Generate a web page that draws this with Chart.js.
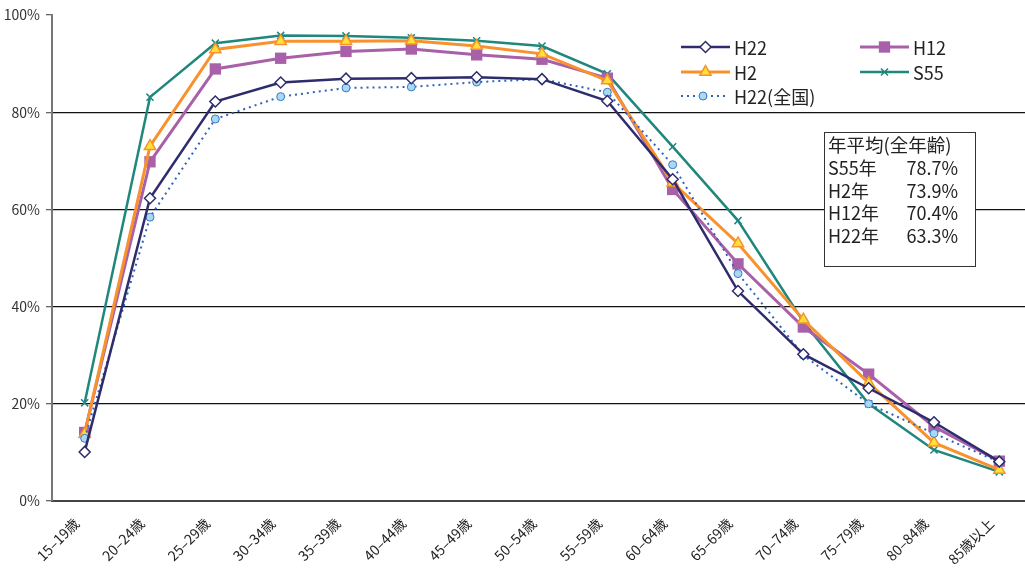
<!DOCTYPE html>
<html lang="ja">
<head>
<meta charset="utf-8">
<script src="https://cdn.jsdelivr.net/npm/chart.js@4/dist/chart.umd.min.js"></script>
<style>
  html, body { margin: 0; padding: 0; background: #fff; overflow: hidden; }
  #wrap { position: absolute; left: 0; top: 0; width: 1040px; height: 569px; }
</style>
</head>
<body>
<div id="wrap"><canvas id="c" width="1040" height="569"></canvas></div>
<script>
// 年齢階級
const ageGroups = ['15–19歳','20–24歳','25–29歳','30–34歳','35–39歳','40–44歳','45–49歳',
  '50–54歳','55–59歳','60–64歳','65–69歳','70–74歳','75–79歳','80–84歳','85歳以上'];

// 労働力率 (%)
const h22 = [10.1, 62.3, 82.2, 86.1, 86.9, 87.0, 87.2, 86.8, 82.3, 66.2, 43.2, 30.2, 23.2, 16.2, 8.1];
const h12 = [14.1, 69.8, 88.9, 91.1, 92.5, 93.0, 91.8, 90.9, 87.0, 64.1, 48.8, 35.8, 26.1, 15.3, 8.2];
const h2  = [13.8, 73.0, 92.9, 94.6, 94.6, 94.7, 93.6, 92.0, 86.5, 65.5, 53.0, 37.3, 24.3, 12.0, 6.4];
const s55 = [20.2, 83.1, 94.2, 95.8, 95.7, 95.3, 94.7, 93.6, 87.9, 72.9, 57.7, 36.9, 20.0, 10.5, 6.0];
const h22National = [12.9, 58.4, 78.6, 83.2, 85.0, 85.2, 86.2, 86.8, 84.1, 69.2, 46.8, 30.0, 20.0, 13.9, 8.0];

// 年平均(全年齢)
const avgLabels = ['S55年', 'H2年', 'H12年', 'H22年'];
const avgValues = [78.7, 73.9, 70.4, 63.3];

const yTicks = [0, 20, 40, 60, 80, 100];

const FONT = '"Noto Sans CJK JP", "Noto Sans", sans-serif';

const datasets = [
  { label: 'H22', data: h22, borderColor: '#2e2c6c', backgroundColor: '#ffffff',
    borderWidth: 2.5, pointStyle: 'rectRot', pointRadius: 5.5, pointBorderWidth: 1.5,
    pointBorderColor: '#2e2c6c', pointBackgroundColor: '#ffffff', order: 1 },
  { label: 'H12', data: h12, borderColor: '#a860a8', backgroundColor: '#a860a8',
    borderWidth: 3, pointStyle: 'rect', pointRadius: 8, pointBorderWidth: 0,
    pointBorderColor: '#a860a8', pointBackgroundColor: '#a860a8', order: 4 },
  { label: 'H2', data: h2, borderColor: '#f7922e', backgroundColor: '#ffe234',
    borderWidth: 3, pointStyle: 'triangle', pointRadius: 6.5, pointBorderWidth: 1.5,
    pointBorderColor: '#f7922e', pointBackgroundColor: '#ffe234', order: 3 },
  { label: 'S55', data: s55, borderColor: '#1f877c', backgroundColor: '#1f877c',
    borderWidth: 2.5, pointStyle: 'crossRot', pointRadius: 5, pointBorderWidth: 1.5,
    pointBorderColor: '#1f877c', pointBackgroundColor: '#1f877c', order: 5 },
  { label: 'H22(全国)', data: h22National, borderColor: '#2f62bd', backgroundColor: '#a9d8f1',
    borderWidth: 2, borderDash: [2, 4], pointStyle: 'circle', pointRadius: 4, pointBorderWidth: 1,
    pointBorderColor: '#3a78c6', pointBackgroundColor: '#a9d8f1', order: 2 }
];
datasets.forEach(d => { d.tension = 0; d.fill = false; d.pointHoverRadius = d.pointRadius; });

// 凡例 (2列) と 年平均のテキストボックス
const overlayPlugin = {
  id: 'overlay',
  afterDraw(chart) {
    const ctx = chart.ctx;
    const slots = [
      { x: 681, y: 47 }, { x: 860, y: 47 },
      { x: 681, y: 72 }, { x: 860, y: 72 },
      { x: 681, y: 96 }
    ];
    ctx.save();
    datasets.forEach((d, i) => {
      const s = slots[i];
      const len = d.borderDash ? 44 : 49;
      ctx.beginPath();
      ctx.setLineDash(d.borderDash || []);
      ctx.lineWidth = d.borderWidth;
      ctx.strokeStyle = d.borderColor;
      ctx.moveTo(s.x, s.y);
      ctx.lineTo(s.x + len, s.y);
      ctx.stroke();
      ctx.setLineDash([]);
      ctx.fillStyle = d.pointBackgroundColor;
      ctx.strokeStyle = d.pointBorderColor;
      ctx.lineWidth = d.pointBorderWidth;
      Chart.helpers.drawPoint(ctx, {
        pointStyle: d.pointStyle, radius: d.pointRadius, rotation: 0,
        borderWidth: d.pointBorderWidth
      }, s.x + len / 2, s.y);
      ctx.fillStyle = '#222';
      ctx.font = '18px ' + FONT;
      ctx.textBaseline = 'middle';
      ctx.textAlign = 'left';
      ctx.fillText(d.label, s.x + 53, s.y + 1);
    });

    // 年平均(全年齢)
    const bx = 824, by = 132, bw = 151, bh = 134;
    ctx.fillStyle = '#ffffff';
    ctx.fillRect(bx, by, bw, bh);
    ctx.strokeStyle = '#333';
    ctx.lineWidth = 1;
    ctx.strokeRect(bx + 0.5, by + 0.5, bw, bh);
    ctx.fillStyle = '#222';
    ctx.font = '18.5px ' + FONT;
    ctx.textBaseline = 'middle';
    ctx.textAlign = 'left';
    ctx.fillText('年平均(全年齢)', bx + 4, 145);
    ctx.font = '18px ' + FONT;
    avgLabels.forEach((lab, i) => {
      const y = 168 + i * 22.7;
      ctx.textAlign = 'left';
      ctx.fillText(lab, bx + 4, y);
      ctx.textAlign = 'right';
      ctx.fillText(avgValues[i].toFixed(1) + '%', 958, y);
    });
    ctx.restore();
  }
};

new Chart(document.getElementById('c'), {
  type: 'line',
  data: { labels: ageGroups, datasets },
  plugins: [overlayPlugin],
  options: {
    responsive: false,
    animation: false,
    devicePixelRatio: 1,
    layout: { padding: { top: 15, right: 8, left: 0, bottom: 0 } },
    plugins: { legend: { display: false }, tooltip: { enabled: false } },
    scales: {
      x: {
        offset: true,
        grid: { display: false },
        border: { display: true, color: '#444', width: 2 },
        ticks: {
          color: '#222', font: { family: FONT, size: 14 },
          maxRotation: 45, minRotation: 45, autoSkip: false, labelOffset: -8, padding: 6
        },
        afterFit(scale) { scale.height = 68; }
      },
      y: {
        min: 0, max: 100,
        afterBuildTicks(scale) { scale.ticks = yTicks.map(v => ({ value: v })); },
        grid: {
          color: c => (c.tick && c.tick.value > 0 && c.tick.value < 100) ? '#111' : 'rgba(0,0,0,0)',
          lineWidth: 1.3,
          tickColor: '#666', tickLength: 6, drawTicks: true
        },
        border: { display: true, color: '#777', width: 2 },
        ticks: {
          color: '#333', font: { family: FONT, size: 14 }, padding: 6,
          callback: v => v + '%'
        },
        afterFit(scale) { scale.width = 52; }
      }
    }
  }
});
</script>
</body>
</html>
